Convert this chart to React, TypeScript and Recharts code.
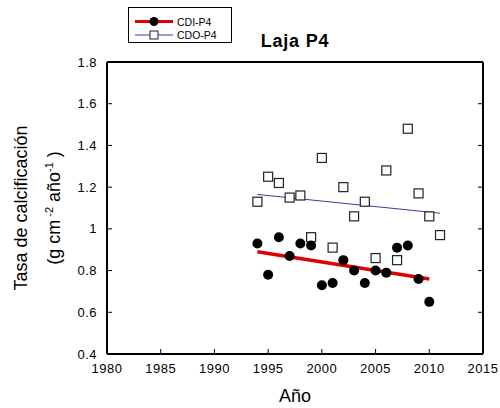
import { ComposedChart, Scatter, Line, XAxis, YAxis, Legend, Label } from 'recharts';

const cdiYears = [1994, 1995, 1996, 1997, 1998, 1999, 2000, 2001, 2002, 2003, 2004, 2005, 2006, 2007, 2008, 2009, 2010];
const cdiValues = [0.93, 0.78, 0.96, 0.87, 0.93, 0.92, 0.73, 0.74, 0.85, 0.8, 0.74, 0.8, 0.79, 0.91, 0.92, 0.76, 0.65];
const cdoYears = [1994, 1995, 1996, 1997, 1998, 1999, 2000, 2001, 2002, 2003, 2004, 2005, 2006, 2007, 2008, 2009, 2010, 2011];
const cdoValues = [1.13, 1.25, 1.22, 1.15, 1.16, 0.96, 1.34, 0.91, 1.2, 1.06, 1.13, 0.86, 1.28, 0.85, 1.48, 1.17, 1.06, 0.97];

// lineas de tendencia (extremos)
const cdiTrendYears = [1994, 2010];
const cdiTrendValues = [0.89, 0.76];
const cdoTrendYears = [1994, 2011];
const cdoTrendValues = [1.165, 1.075];

const xTicks = [1980, 1985, 1990, 1995, 2000, 2005, 2010, 2015];
const yTicks = [0.4, 0.6, 0.8, 1, 1.2, 1.4, 1.6, 1.8];
const seriesNames = ['CDI-P4', 'CDO-P4'];

const toPoints = (xs: number[], ys: number[]) => xs.map((year, i) => ({ year, value: ys[i] }));

const cdiData = toPoints(cdiYears, cdiValues);
const cdoData = toPoints(cdoYears, cdoValues);
const cdiTrend = toPoints(cdiTrendYears, cdiTrendValues);
const cdoTrend = toPoints(cdoTrendYears, cdoTrendValues);

const FONT = '"Liberation Sans", Arial, sans-serif';
const RED = '#e00000';
const BLUE = '#3a3aa8';

const Dot = (props: any) => <circle cx={props.cx} cy={props.cy} r={5} fill="#000" />;
const Square = (props: any) => (
  <rect x={props.cx - 4.5} y={props.cy - 4.5} width={9} height={9} fill="#fff" stroke="#222" strokeWidth={1.2} />
);

const LegendBox = () => (
  <svg width={105} height={37} style={{ display: 'block', fontFamily: FONT }}>
    <rect x={0.5} y={0.5} width={103} height={35} fill="#fff" stroke="#000" />
    <line x1={7} x2={45} y1={14.5} y2={14.5} stroke={RED} strokeWidth={3} />
    <circle cx={26} cy={14.5} r={4.5} fill="#000" />
    <text x={49} y={14.5} dominantBaseline="central" fontSize={10.5}>{seriesNames[0]}</text>
    <line x1={7} x2={45} y1={28} y2={28} stroke={BLUE} strokeWidth={1} />
    <rect x={22} y={24} width={8} height={8} fill="#fff" stroke="#222" />
    <text x={49} y={28} dominantBaseline="central" fontSize={10.5}>{seriesNames[1]}</text>
  </svg>
);

const YTitle = (props: any) => {
  const vb = props.viewBox;
  const cy = vb.y + vb.height / 2;
  return (
    <g fontFamily={FONT} fill="#000">
      <text transform={`translate(27, ${cy}) rotate(-90)`} textAnchor="middle" fontSize={18}>
        Tasa de calcificación
      </text>
      <text transform={`translate(60, ${cy}) rotate(-90)`} textAnchor="middle" fontSize={18}>
        <tspan>(g cm</tspan>
        <tspan dy={-7} fontSize={11}> -2</tspan>
        <tspan dy={7}> año</tspan>
        <tspan dy={-7} fontSize={11}>-1</tspan>
        <tspan dy={7}> )</tspan>
      </text>
    </g>
  );
};

const tickStyle = { fontSize: 13, fill: '#000', fontFamily: FONT, letterSpacing: 0.5 };
const axisLine = { stroke: '#000', strokeWidth: 2 };
const tickLine = { stroke: '#000', strokeWidth: 1 };

export default function App() {
  return (
    <div style={{ position: 'absolute', left: 0, top: 0, background: '#fff' }}>
      <ComposedChart width={500} height={408} margin={{ top: 61, right: 16, bottom: 0, left: 0 }}>
        <XAxis
          xAxisId="b"
          dataKey="year"
          type="number"
          domain={[1980, 2015]}
          ticks={xTicks}
          height={54}
          axisLine={axisLine}
          tickLine={tickLine}
          tickSize={-5}
          tickMargin={15}
          tick={tickStyle}
          allowDataOverflow
        >
          <Label value="Año" position="insideBottom" offset={6} fontSize={18} fill="#000" fontFamily={FONT} />
        </XAxis>
        <XAxis
          xAxisId="t"
          orientation="top"
          type="number"
          domain={[1980, 2015]}
          ticks={xTicks}
          height={1}
          axisLine={axisLine}
          tickLine={tickLine}
          tickSize={-5}
          tickFormatter={() => ''}
          allowDataOverflow
        >
          <Label value="Laja P4" position="top" offset={14} fontSize={18} fontWeight="bold" fill="#000" fontFamily={FONT} letterSpacing={0.8} />
        </XAxis>
        <YAxis
          yAxisId="l"
          type="number"
          domain={[0.4, 1.8]}
          ticks={yTicks}
          width={107}
          axisLine={axisLine}
          tickLine={tickLine}
          tickSize={-5}
          tickMargin={15}
          tick={tickStyle}
          allowDataOverflow
        >
          <Label content={<YTitle />} />
        </YAxis>
        <YAxis
          yAxisId="r"
          orientation="right"
          type="number"
          domain={[0.4, 1.8]}
          ticks={yTicks}
          width={1}
          axisLine={axisLine}
          tickLine={tickLine}
          tickSize={-5}
          tickFormatter={() => ''}
          allowDataOverflow
        />
        <Legend
          layout="vertical"
          align="center"
          verticalAlign="middle"
          content={<LegendBox />}
          wrapperStyle={{ left: 128, top: 7, width: 105, height: 37 }}
        />
        <Line
          xAxisId="b"
          yAxisId="l"
          data={cdiTrend}
          dataKey="value"
          name={seriesNames[0]}
          stroke={RED}
          strokeWidth={3.5}
          dot={false}
          isAnimationActive={false}
        />
        <Line
          xAxisId="b"
          yAxisId="l"
          data={cdoTrend}
          dataKey="value"
          name={seriesNames[1]}
          stroke={BLUE}
          strokeWidth={1}
          dot={false}
          isAnimationActive={false}
        />
        <Scatter xAxisId="b" yAxisId="l" data={cdoData} dataKey="value" shape={<Square />} isAnimationActive={false} />
        <Scatter xAxisId="b" yAxisId="l" data={cdiData} dataKey="value" shape={<Dot />} isAnimationActive={false} />
      </ComposedChart>
    </div>
  );
}
